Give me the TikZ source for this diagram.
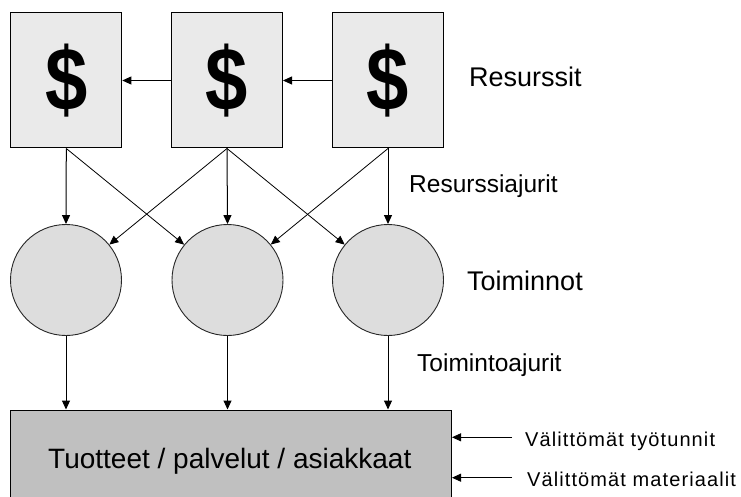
\documentclass[tikz,border=0pt]{standalone}
\usepackage{fontspec}
\setmainfont{Liberation Sans}
\newfontfamily\spacedfont[LetterSpace=5.5]{Liberation Sans}
\usetikzlibrary{arrows.meta}
\definecolor{boxfill}{HTML}{EAEAEA}
\definecolor{circfill}{HTML}{DDDDDD}
\definecolor{rectfill}{HTML}{C0C0C0}
\newcommand{\dollarsign}{\scalebox{0.95}[1.12]{\fontsize{80}{80}\selectfont\bfseries\$}}
\tikzset{
  resbox/.style={draw=black, line width=1pt, fill=boxfill, minimum width=111pt, minimum height=135pt, inner sep=0pt},
  actcirc/.style={circle, draw=black!85, line width=0.9pt, fill=circfill, minimum size=111pt, inner sep=0pt},
  prodrect/.style={draw=black, line width=1pt, fill=rectfill, minimum width=441pt, minimum height=100pt, inner sep=0pt},
  arr/.style={line width=1pt, -{Triangle[length=9pt,width=8pt]}},
  thinarr/.style={line width=0.8pt, -{Triangle[length=9pt,width=8pt]}},
  lbl/.style={anchor=base west, inner sep=0pt},
}
\begin{document}
\begin{tikzpicture}[x=1pt,y=-1pt]
\useasboundingbox (0,0) rectangle (741,497);
\clip (0,0) rectangle (741,497);
% resource boxes
\node[resbox] (b1) at (66.3,80.5) {\dollarsign};
\node[resbox] (b2) at (227,80.5) {\dollarsign};
\node[resbox] (b3) at (388,80.5) {\dollarsign};
% activity circles
\node[actcirc] (c1) at (66,280) {};
\node[actcirc] (c2) at (227.5,280) {};
\node[actcirc] (c3) at (388,280) {};
% products
\node[prodrect] (p) at (231,460) {};
\node[lbl] (pt) at (48,468) {\fontsize{28}{30}\selectfont Tuotteet / palvelut / asiakkaat};
% labels
\node[lbl] (l1) at (469,87) {\fontsize{27}{30}\selectfont Resurssit};
\node[lbl] (l2) at (409,193) {\fontsize{24.5}{28}\selectfont Resurssiajurit};
\node[lbl] (l3) at (467,290) {\fontsize{27}{30}\selectfont Toiminnot};
\node[lbl] (l4) at (417,371) {\fontsize{24.5}{28}\selectfont Toimintoajurit};
\node[lbl] (l5) at (525,446) {\fontsize{20}{22}\spacedfont Välittömät työtunnit};
\node[lbl] (l6) at (527,486) {\fontsize{20}{22}\spacedfont Välittömät materiaalit};
% connectors between boxes
\draw[thinarr] (b3.west) -- (b2.east);
\draw[thinarr] (b2.west) -- (b1.east);
% resource drivers
\draw[arr] (b1.south) -- (c1.north);
\draw[thinarr] (b1.south) -- (c2);
\draw[thinarr] (b2.south) -- (c1);
\draw[arr] (b2.south) -- (c2.north);
\draw[thinarr] (b2.south) -- (c3);
\draw[thinarr] (b3.south) -- (c2);
\draw[arr] (b3.south) -- (c3.north);
% activity drivers
\draw[arr] (c1.south) -- (c1.south |- p.north);
\draw[arr] (c2.south) -- (c2.south |- p.north);
\draw[arr] (c3.south) -- (c3.south |- p.north);
% direct inputs
\coordinate (w1) at (512,437.3);
\coordinate (w2) at (512,477.7);
\draw[thinarr] (w1) -- (w1 -| p.east);
\draw[thinarr] (w2) -- (w2 -| p.east);
\end{tikzpicture}
\end{document}
